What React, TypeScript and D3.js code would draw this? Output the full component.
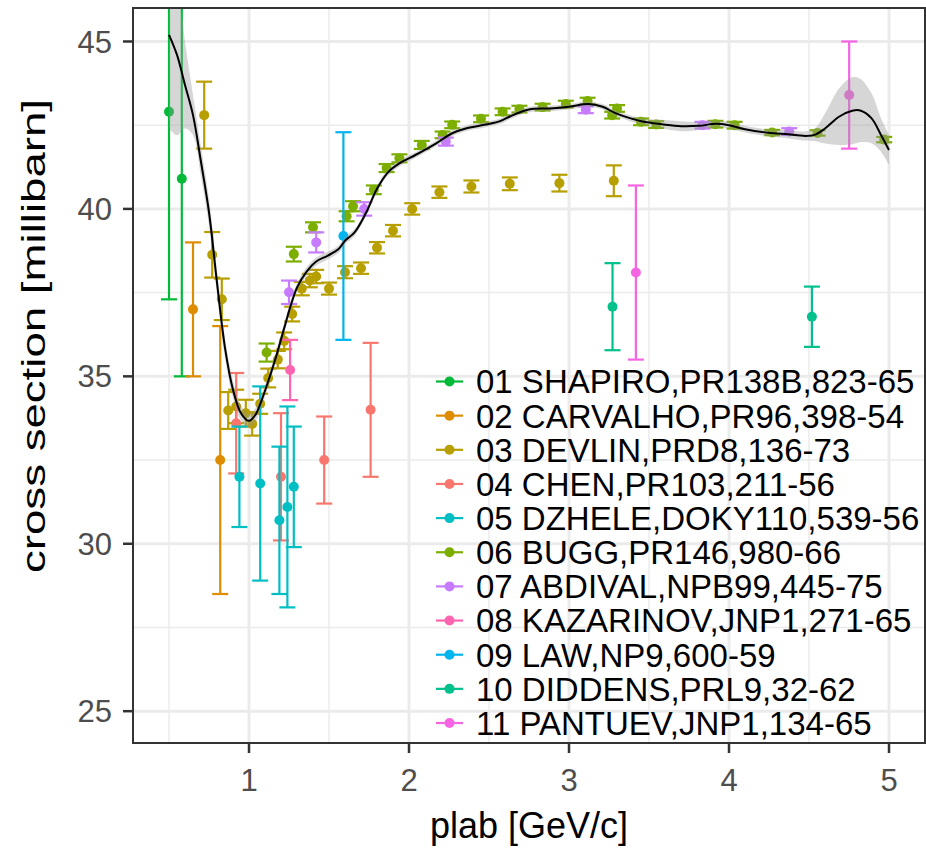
import React from 'react';
import * as d3 from 'd3';

const W = 926;
const H = 849;
const PANEL = { left: 133, top: 8, right: 925, bottom: 743 };

const xDomain: [number, number] = [0.275, 5.225];
const yDomain: [number, number] = [24.05, 46.0];
const xTicks = [1, 2, 3, 4, 5];
const yTicks = [25, 30, 35, 40, 45];
const xMinor = [0.5, 1.5, 2.5, 3.5, 4.5];
const yMinor = [27.5, 32.5, 37.5, 42.5];

const seriesNames = [
  '01 SHAPIRO,PR138B,823-65',
  '02 CARVALHO,PR96,398-54',
  '03 DEVLIN,PRD8,136-73',
  '04 CHEN,PR103,211-56',
  '05 DZHELE,DOKY110,539-56',
  '06 BUGG,PR146,980-66',
  '07 ABDIVAL,NPB99,445-75',
  '08 KAZARINOV,JNP1,271-65',
  '09 LAW,NP9,600-59',
  '10 DIDDENS,PRL9,32-62',
  '11 PANTUEV,JNP1,134-65',
];
const seriesColors = [
  '#00BA38', '#DE8C00', '#B79F00', '#F8766D', '#00BFC4', '#7CAE00',
  '#C77CFF', '#FF64B0', '#00B4F0', '#00C08B', '#F564E3',
];

// [plab, cross section, error]
const shapiro: [number, number, number][] = [[0.5, 42.9, 5.6], [0.58, 40.9, 5.9]];
const carvalho: [number, number, number][] = [[0.65, 37.0, 2.0], [0.82, 32.5, 4.0]];
const devlin: [number, number, number][] = [
  [0.72, 42.8, 1.0], [0.77, 38.63, 0.68], [0.83, 37.3, 0.62], [0.87, 33.98, 0.55],
  [0.92, 34.1, 0.5], [0.98, 33.9, 0.4], [1.02, 33.58, 0.35], [1.07, 34.18, 0.3],
  [1.12, 34.95, 0.28], [1.18, 35.5, 0.26], [1.22, 36.06, 0.25], [1.27, 36.86, 0.22],
  [1.33, 37.62, 0.2], [1.38, 37.86, 0.2], [1.42, 37.98, 0.2], [1.5, 37.62, 0.18],
  [1.6, 38.11, 0.18], [1.7, 38.23, 0.17], [1.8, 38.84, 0.17], [1.9, 39.35, 0.17],
  [2.02, 40.0, 0.17], [2.19, 40.5, 0.17], [2.39, 40.67, 0.18], [2.63, 40.75, 0.19],
  [2.94, 40.77, 0.25], [3.28, 40.84, 0.46],
];
const chen: [number, number, number][] = [[0.92, 33.6, 1.5], [1.2, 32.0, 1.9], [1.47, 32.5, 1.3], [1.76, 34.0, 2.0]];
const dzhele: [number, number, number][] = [[0.94, 32.0, 1.5], [1.07, 31.8, 2.9], [1.19, 30.7, 2.2], [1.24, 31.1, 3.0], [1.28, 31.7, 1.8]];
const bugg: [number, number, number][] = [
  [1.11, 35.71, 0.27], [1.28, 38.65, 0.22], [1.4, 39.45, 0.15], [1.61, 39.78, 0.15],
  [1.65, 40.08, 0.15], [1.78, 40.57, 0.13], [1.86, 41.22, 0.12], [1.94, 41.51, 0.12],
  [2.08, 41.91, 0.12], [2.21, 42.21, 0.1], [2.27, 42.51, 0.1], [2.45, 42.69, 0.1],
  [2.585, 42.9, 0.1], [2.69, 42.98, 0.1], [2.835, 43.04, 0.1], [2.98, 43.13, 0.1],
  [3.116, 43.22, 0.1], [3.27, 42.8, 0.1], [3.3, 43.0, 0.1], [3.45, 42.6, 0.1],
  [3.545, 42.52, 0.1], [3.915, 42.53, 0.1], [4.035, 42.5, 0.1], [4.27, 42.28, 0.08],
  [4.553, 42.27, 0.08], [4.97, 42.07, 0.08],
];
const abdival: [number, number, number][] = [
  [1.25, 37.51, 0.35], [1.42, 39.0, 0.3], [1.72, 40.0, 0.2], [2.23, 42.01, 0.12],
  [3.105, 42.96, 0.1], [3.834, 42.5, 0.1], [4.376, 42.31, 0.1],
];
const kazarinov: [number, number, number][] = [[1.257, 35.19, 0.9]];
const law: [number, number, number][] = [[1.59, 39.19, 3.1]];
const diddens: [number, number, number][] = [[3.272, 37.08, 1.3], [4.518, 36.78, 0.9]];
const pantuev: [number, number, number][] = [[3.418, 38.1, 2.6], [4.751, 43.4, 1.6]];

const seriesData = [shapiro, carvalho, devlin, chen, dzhele, bugg, abdival, kazarinov, law, diddens, pantuev];

// smooth fit: [plab, fit, half-width of band]
const smoothFit: [number, number, number][] = [
  [0.5, 45.2, 2.8], [0.55, 44.6, 2.4], [0.6, 43.7, 1.3], [0.65, 42.8, 0.6],
  [0.7, 41.4, 0.45], [0.75, 39.9, 0.4], [0.8, 37.8, 0.35], [0.85, 35.85, 0.3],
  [0.9, 34.6, 0.25], [0.95, 33.9, 0.22], [1.0, 33.67, 0.2], [1.04, 33.85, 0.2],
  [1.08, 34.3, 0.18], [1.12, 34.85, 0.17], [1.17, 35.6, 0.16], [1.22, 36.44, 0.15],
  [1.26, 37.1, 0.14], [1.3, 37.65, 0.13], [1.36, 38.13, 0.13], [1.42, 38.43, 0.12],
  [1.49, 38.6, 0.12], [1.56, 38.8, 0.11], [1.6, 39.05, 0.11], [1.66, 39.3, 0.1],
  [1.73, 39.87, 0.1], [1.8, 40.6, 0.1], [1.87, 41.1, 0.09], [1.94, 41.36, 0.09],
  [2.04, 41.61, 0.08], [2.17, 41.96, 0.08], [2.27, 42.26, 0.08], [2.36, 42.41, 0.08],
  [2.48, 42.52, 0.08], [2.57, 42.62, 0.08], [2.63, 42.76, 0.08], [2.75, 42.97, 0.08],
  [2.88, 43.0, 0.08], [3.0, 43.05, 0.08], [3.12, 43.13, 0.08], [3.21, 43.05, 0.08],
  [3.29, 42.86, 0.08], [3.38, 42.71, 0.09], [3.46, 42.61, 0.1], [3.58, 42.53, 0.13],
  [3.7, 42.47, 0.15], [3.81, 42.48, 0.12], [3.92, 42.54, 0.1], [4.0, 42.5, 0.1],
  [4.1, 42.38, 0.1], [4.23, 42.28, 0.1], [4.35, 42.24, 0.12], [4.48, 42.18, 0.14],
  [4.54, 42.22, 0.2], [4.6, 42.4, 0.45], [4.69, 42.76, 0.85], [4.77, 42.93, 1.0],
  [4.82, 42.94, 0.95], [4.89, 42.71, 0.75], [4.95, 42.21, 0.5], [5.0, 41.76, 0.45],
];

const FONT = 'Liberation Sans, Arial, Helvetica, sans-serif';

export default function App() {
  const x = d3.scaleLinear().domain(xDomain).range([PANEL.left, PANEL.right]);
  const y = d3.scaleLinear().domain(yDomain).range([PANEL.bottom, PANEL.top]);
  const capHalf = 0.05;

  const line = d3
    .line<[number, number, number]>()
    .x((d) => x(d[0]))
    .y((d) => y(d[1]))
    .curve(d3.curveCatmullRom.alpha(0.5));
  const area = d3
    .area<[number, number, number]>()
    .x((d) => x(d[0]))
    .y0((d) => y(d[1] - d[2]))
    .y1((d) => y(d[1] + d[2]))
    .curve(d3.curveCatmullRom.alpha(0.5));

  const legendX = 436;
  const legendY0 = 381.5;
  const legendStep = 34.15;

  return (
    <svg
      width={W}
      height={H}
      viewBox={`0 0 ${W} ${H}`}
      style={{ position: 'absolute', left: 0, top: 0, background: '#fff' }}
    >
      <defs>
        <clipPath id="panel-clip">
          <rect x={PANEL.left} y={PANEL.top} width={PANEL.right - PANEL.left} height={PANEL.bottom - PANEL.top} />
        </clipPath>
      </defs>
      <rect x={0} y={0} width={W} height={H} fill="#fff" />
      {/* grid */}
      <g>
        {xMinor.map((v) => (
          <line key={'xm' + v} x1={x(v)} x2={x(v)} y1={PANEL.top} y2={PANEL.bottom} stroke="#EBEBEB" strokeWidth={1.5} />
        ))}
        {yMinor.map((v) => (
          <line key={'ym' + v} y1={y(v)} y2={y(v)} x1={PANEL.left} x2={PANEL.right} stroke="#EBEBEB" strokeWidth={1.5} />
        ))}
        {xTicks.map((v) => (
          <line key={'xM' + v} x1={x(v)} x2={x(v)} y1={PANEL.top} y2={PANEL.bottom} stroke="#EBEBEB" strokeWidth={3} />
        ))}
        {yTicks.map((v) => (
          <line key={'yM' + v} y1={y(v)} y2={y(v)} x1={PANEL.left} x2={PANEL.right} stroke="#EBEBEB" strokeWidth={3} />
        ))}
      </g>
      {/* data */}
      <g clipPath="url(#panel-clip)">
        {seriesData.map((s, i) => (
          <g key={'s' + i} stroke={seriesColors[i]} fill={seriesColors[i]}>
            {s.map((d, j) => (
              <g key={j}>
                <line x1={x(d[0])} x2={x(d[0])} y1={y(d[1] - d[2])} y2={y(d[1] + d[2])} strokeWidth={2.2} />
                <line x1={x(d[0] - capHalf)} x2={x(d[0] + capHalf)} y1={y(d[1] - d[2])} y2={y(d[1] - d[2])} strokeWidth={2.2} />
                <line x1={x(d[0] - capHalf)} x2={x(d[0] + capHalf)} y1={y(d[1] + d[2])} y2={y(d[1] + d[2])} strokeWidth={2.2} />
              </g>
            ))}
            {s.map((d, j) => (
              <circle key={'p' + j} cx={x(d[0])} cy={y(d[1])} r={5} stroke="none" />
            ))}
          </g>
        ))}
        <path d={area(smoothFit) || ''} fill="#999999" fillOpacity={0.4} stroke="none" />
        <path d={line(smoothFit) || ''} fill="none" stroke="#000" strokeWidth={2} />
      </g>
      {/* panel border */}
      <rect
        x={PANEL.left}
        y={PANEL.top}
        width={PANEL.right - PANEL.left}
        height={PANEL.bottom - PANEL.top}
        fill="none"
        stroke="#333333"
        strokeWidth={2}
      />
      {/* axes ticks */}
      {xTicks.map((v) => (
        <g key={'xt' + v}>
          <line x1={x(v)} x2={x(v)} y1={PANEL.bottom} y2={PANEL.bottom + 10} stroke="#333333" strokeWidth={2.5} />
          <text x={x(v)} y={791} textAnchor="middle" fontFamily={FONT} fontSize={31} fill="#4D4D4D">
            {v}
          </text>
        </g>
      ))}
      {yTicks.map((v) => (
        <g key={'yt' + v}>
          <line x1={PANEL.left - 10} x2={PANEL.left} y1={y(v)} y2={y(v)} stroke="#333333" strokeWidth={2.5} />
          <text x={112} y={y(v)} dy="0.36em" textAnchor="end" fontFamily={FONT} fontSize={31} fill="#4D4D4D">
            {v}
          </text>
        </g>
      ))}
      {/* axis titles */}
      <text x={(PANEL.left + PANEL.right) / 2} y={838} textAnchor="middle" fontFamily={FONT} fontSize={36} fill="#000">
        plab [GeV/c]
      </text>
      <text
        transform={`translate(45, 573) rotate(-90)`}
        textAnchor="start"
        fontFamily={FONT}
        fontSize={34}
        textLength={474}
        lengthAdjust="spacingAndGlyphs"
        fill="#000"
      >
        cross section [millibarn]
      </text>
      {/* legend */}
      {seriesNames.map((name, i) => {
        const ly = legendY0 + i * legendStep;
        return (
          <g key={'lg' + i}>
            <line x1={legendX} x2={legendX + 27} y1={ly} y2={ly} stroke={seriesColors[i]} strokeWidth={2.2} />
            <circle cx={legendX + 13.5} cy={ly} r={5} fill={seriesColors[i]} />
            <text x={476} y={ly} dy="0.36em" fontFamily={FONT} fontSize={33} fill="#000">
              {name}
            </text>
          </g>
        );
      })}
    </svg>
  );
}
